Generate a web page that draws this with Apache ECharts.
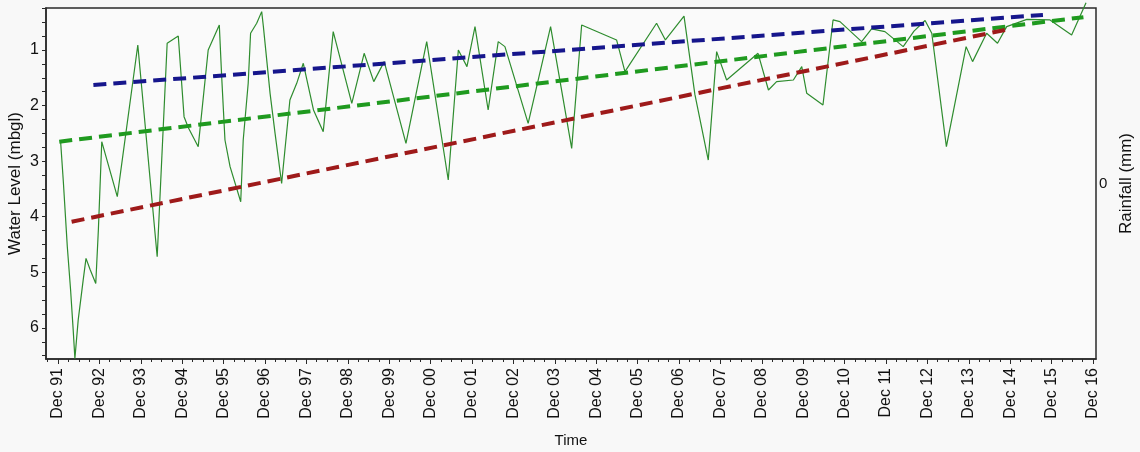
<!DOCTYPE html>
<html>
<head>
<meta charset="utf-8">
<script src="https://cdn.jsdelivr.net/npm/echarts@6/dist/echarts.min.js"></script>
<style>
  html, body { margin: 0; padding: 0; background: #f8f8f8; }
  #chart { width: 1140px; height: 452px; }
</style>
</head>
<body>
<div id="chart"></div>
<script>
// Observed water level (metres below ground level)
const obsDates = [
  '1991-12-24','1992-01-17','1992-02-21','1992-03-21','1992-04-13','1992-04-28','1992-05-27',
  '1992-07-10','1992-08-04','1992-09-09','1992-10-29','1992-11-21','1992-12-21','1993-05-07',
  '1993-11-04','1994-04-24','1994-07-21','1994-10-27','1994-12-17','1995-01-24','1995-04-21',
  '1995-07-18','1995-10-24','1995-11-14','1995-12-13','1996-01-27','1996-04-30','1996-05-22',
  '1996-07-05','1996-07-26','1996-09-18','1996-11-01','1996-11-16','1997-01-14','1997-02-27',
  '1997-04-26','1997-05-25','1997-07-08','1997-09-06','1997-11-03','1998-02-01','1998-04-28',
  '1998-07-25','1999-01-05','1999-04-24','1999-07-18','1999-10-18','2000-04-27','2000-10-27',
  '2001-05-05','2001-08-02','2001-10-17','2001-12-27','2002-04-22','2002-07-20','2002-09-17',
  '2003-04-10','2003-10-25','2004-04-28','2004-07-25','2005-05-29','2005-08-11','2006-05-17',
  '2006-08-03','2007-01-14','2007-04-20','2007-08-16','2007-10-29','2008-01-25','2008-10-28',
  '2009-01-28','2009-04-10','2009-09-05','2009-11-18','2010-01-01','2010-05-24','2010-08-21',
  '2010-10-21','2011-04-30','2011-07-27','2011-11-22','2012-05-01','2012-08-04','2012-11-10',
  '2013-01-08','2013-05-17','2013-11-07','2014-01-03','2014-05-07','2014-08-11','2014-10-31',
  '2015-04-27','2015-11-17','2016-05-26','2016-09-30'
];
const obsLevels = [
  2.65, 3.37, 4.54, 5.32, 6.04, 6.55, 5.86,
  5.14, 4.75, 4.95, 5.20, 4.24, 2.65, 3.64,
  0.91, 4.72, 0.88, 0.75, 2.20, 2.40, 2.74,
  1.00, 0.55, 1.48, 2.62, 3.10, 3.73, 2.62,
  1.60, 0.70, 0.52, 0.31, 0.58, 1.78, 2.50,
  3.40, 2.80, 1.90, 1.60, 1.24, 2.08, 2.47,
  0.67, 1.96, 1.06, 1.57, 1.21, 2.68, 0.85,
  3.34, 1.00, 1.30, 0.58, 2.08, 0.85, 0.94,
  2.32, 0.58, 2.77, 0.55, 0.82, 1.39, 0.52,
  0.82, 0.39, 1.80, 2.98, 1.03, 1.54, 1.06,
  1.72, 1.57, 1.54, 1.30, 1.78, 1.99, 0.46,
  0.49, 0.85, 0.62, 0.67, 0.94, 0.66, 0.47,
  0.70, 2.74, 0.94, 1.21, 0.70, 0.88, 0.58,
  0.45, 0.46, 0.73, 0.15
];

// Fitted trend lines (start and end points)
const trendBlueDates = ['1992-10-08', '2015-09-16'];
const trendBlueLevels = [1.63, 0.37];
const trendGreenDates = ['1991-12-12', '2016-09-07'];
const trendGreenLevels = [2.65, 0.41];
const trendRedDates = ['1992-03-30', '2014-10-16'];
const trendRedLevels = [4.09, 0.64];

// Axis ticks and labels
const yearTickDates = [
  '1991-12-01','1992-12-01','1993-12-01','1994-12-01','1995-12-01','1996-12-01','1997-12-01',
  '1998-12-01','1999-12-01','2000-12-01','2001-12-01','2002-12-01','2003-12-01','2004-12-01',
  '2005-12-01','2006-12-01','2007-12-01','2008-12-01','2009-12-01','2010-12-01','2011-12-01',
  '2012-12-01','2013-12-01','2014-12-01','2015-12-01','2016-12-01'
];
const yearTickLabels = [
  'Dec 91','Dec 92','Dec 93','Dec 94','Dec 95','Dec 96','Dec 97','Dec 98','Dec 99','Dec 00',
  'Dec 01','Dec 02','Dec 03','Dec 04','Dec 05','Dec 06','Dec 07','Dec 08','Dec 09','Dec 10',
  'Dec 11','Dec 12','Dec 13','Dec 14','Dec 15','Dec 16'
];
const levelTickLabels = [1, 2, 3, 4, 5, 6];
const rainfallTickLabels = [0];

const ts = d => new Date(d + 'T00:00:00Z').getTime();
const pairs = (ds, vs) => ds.map((d, i) => [ts(d), vs[i]]);

const yearTickTimes = yearTickDates.map(ts);
// quarter-year minor ticks between the December marks
const quarterTickTimes = [];
for (let y = 1991; y <= 2016; y++) {
  for (const m of [3, 6, 9]) {
    quarterTickTimes.push(Date.UTC(y, m - 1, 1));
  }
}
const levelMinorTicks = [];
for (let v = 0.25; v <= 6.5 + 1e-9; v += 0.25) levelMinorTicks.push(+v.toFixed(2));

const FONT = '"Liberation Sans", Arial, sans-serif';
const TXT = '#111';
const xMin = ts('1991-08-17');
const xMax = ts('2016-12-27');

const chart = echarts.init(document.getElementById('chart'), null, { renderer: 'canvas' });

chart.setOption({
  animation: false,
  backgroundColor: '#f8f8f8',
  textStyle: { fontFamily: FONT },
  grid: {
    left: 46, right: 44, top: 8, bottom: 93,
    outerBoundsMode: 'none', containLabel: false,
    show: true, borderColor: '#2a2a2a', borderWidth: 1.5, backgroundColor: '#fafafa'
  },
  xAxis: [
    {
      type: 'value', min: xMin, max: xMax, position: 'bottom',
      name: 'Time', nameLocation: 'middle', nameGap: 74,
      nameTextStyle: { fontFamily: FONT, fontSize: 15, color: TXT },
      axisLine: { show: true, onZero: false, lineStyle: { color: '#2a2a2a', width: 1.5 } },
      axisTick: { show: true, customValues: yearTickTimes, length: 5, lineStyle: { color: '#2a2a2a' } },
      axisLabel: {
        customValues: yearTickTimes, rotate: 90, margin: 9,
        fontFamily: FONT, fontSize: 16, color: TXT,
        formatter: v => {
          const i = yearTickTimes.indexOf(v);
          return i >= 0 ? yearTickLabels[i] : '';
        }
      },
      splitLine: { show: false }
    },
    {
      type: 'value', min: xMin, max: xMax, position: 'bottom',
      axisLine: { show: false, onZero: false },
      axisTick: { show: true, customValues: quarterTickTimes, length: 3, lineStyle: { color: '#2a2a2a' } },
      axisLabel: { show: false },
      splitLine: { show: false }
    }
  ],
  yAxis: [
    {
      type: 'value', inverse: true, min: 0.245, max: 6.56, position: 'left',
      name: 'Water Level (mbgl)', nameLocation: 'middle', nameGap: 22, nameRotate: 90,
      nameMoveOverlap: false,
      nameTextStyle: { fontFamily: FONT, fontSize: 17, color: TXT },
      axisLine: { show: true, onZero: false, lineStyle: { color: '#2a2a2a', width: 1.5 } },
      axisTick: { show: true, customValues: levelMinorTicks, length: 4, lineStyle: { color: '#2a2a2a' } },
      axisLabel: { customValues: levelTickLabels, margin: 7, fontFamily: FONT, fontSize: 16, color: TXT },
      splitLine: { show: false }
    },
    {
      type: 'value', min: -1, max: 1, position: 'right',
      name: 'Rainfall (mm)', nameLocation: 'middle', nameGap: 22, nameRotate: 90,
      nameTextStyle: { fontFamily: FONT, fontSize: 17, color: TXT },
      axisLine: { show: false, onZero: false },
      axisTick: { show: false },
      axisLabel: { customValues: rainfallTickLabels, margin: 3, fontFamily: FONT, fontSize: 15, color: TXT },
      splitLine: { show: false }
    }
  ],
  series: [
    {
      name: 'Water level', type: 'line', xAxisIndex: 0, yAxisIndex: 0,
      data: pairs(obsDates, obsLevels), showSymbol: false, symbol: 'none', clip: false,
      lineStyle: { color: '#2e8c2e', width: 1.2 }
    },
    {
      name: 'Trend blue', type: 'line', xAxisIndex: 0, yAxisIndex: 0,
      data: pairs(trendBlueDates, trendBlueLevels), symbol: 'none',
      lineStyle: { color: '#16168c', width: 4, type: [13, 7] }
    },
    {
      name: 'Trend green', type: 'line', xAxisIndex: 0, yAxisIndex: 0,
      data: pairs(trendGreenDates, trendGreenLevels), symbol: 'none',
      lineStyle: { color: '#1f9a1f', width: 4, type: [13, 7] }
    },
    {
      name: 'Trend red', type: 'line', xAxisIndex: 0, yAxisIndex: 0,
      data: pairs(trendRedDates, trendRedLevels), symbol: 'none',
      lineStyle: { color: '#9e1a1a', width: 4, type: [13, 7] }
    }
  ]
});
</script>
</body>
</html>
